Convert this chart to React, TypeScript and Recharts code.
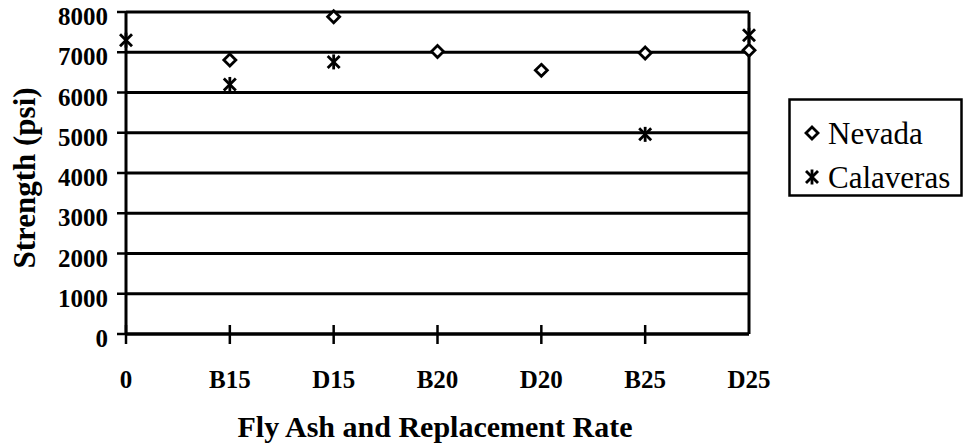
import React from 'react';
import { LineChart, Line, XAxis, YAxis, CartesianGrid, ReferenceLine } from 'recharts';

const categories = ['0', 'B15', 'D15', 'B20', 'D20', 'B25', 'D25'];
const nevada: (number | null)[] = [null, 6810, 7880, 7020, 6550, 6980, 7050];
const calaveras: (number | null)[] = [7300, 6200, 6760, null, null, 4960, 7420];
const yTicks = [0, 1000, 2000, 3000, 4000, 5000, 6000, 7000, 8000];
const seriesNames = ['Nevada', 'Calaveras'];

const data = categories.map((c, i) => ({ cat: c, nevada: nevada[i], calaveras: calaveras[i] }));

const FONT = 'Liberation Serif, Times New Roman, serif';

const Diamond = (props: any) => {
  const { cx, cy } = props;
  if (cx == null || cy == null) return <g key={props.key} />;
  const s = 6;
  return (
    <polygon
      key={props.key}
      points={`${cx},${cy - s} ${cx + s},${cy} ${cx},${cy + s} ${cx - s},${cy}`}
      fill="#fff"
      stroke="#000"
      strokeWidth={2.8}
    />
  );
};

const Star = (props: any) => {
  const { cx, cy } = props;
  if (cx == null || cy == null) return <g key={props.key} />;
  const s = 6;
  return (
    <g key={props.key} stroke="#000" strokeWidth={2.8}>
      <line x1={cx - s} y1={cy - s} x2={cx + s} y2={cy + s} />
      <line x1={cx - s} y1={cy + s} x2={cx + s} y2={cy - s} />
      <line x1={cx} y1={cy - 7.5} x2={cx} y2={cy + 7.5} />
    </g>
  );
};

const XTick = (props: any) => {
  const { x, y, payload, index } = props;
  return (
    <g>
      {index < categories.length - 1 && (
        <line x1={x} x2={x} y1={y - 9} y2={y + 10} stroke="#000" strokeWidth={2.5} />
      )}
      <text x={x} y={y + 54} textAnchor="middle" fontFamily={FONT} fontWeight="bold" fontSize={25} fill="#000">
        {payload.value}
      </text>
    </g>
  );
};

const YTick = (props: any) => {
  const { x, y, payload } = props;
  return (
    <text x={x} y={y + 13} textAnchor="end" fontFamily={FONT} fontWeight="bold" fontSize={25} fill="#000">
      {payload.value}
    </text>
  );
};

const LegendBox = () => (
  <svg width={176} height={100} style={{ position: 'absolute', left: 788, top: 98, display: 'block' }}>
    <rect x={1.5} y={1.5} width={172} height={96} fill="#fff" stroke="#000" strokeWidth={2.5} />
    {seriesNames.map((name, i) => {
      const M = i === 0 ? Diamond : Star;
      const cy = i === 0 ? 35 : 79;
      return (
        <g key={name}>
          <M cx={24} cy={cy} />
          <text x={40} y={cy + 11} fontFamily={FONT} fontSize={31} fill="#000">
            {name}
          </text>
        </g>
      );
    })}
  </svg>
);

export default function App() {
  return (
    <div style={{ position: 'absolute', left: 0, top: 0, width: 966, height: 445, background: '#fff' }}>
      <LineChart width={966} height={445} data={data} margin={{ top: 12, right: 217, bottom: 0, left: 0 }}>
        <CartesianGrid horizontal vertical={false} stroke="#000" strokeWidth={2.8} />
        <ReferenceLine x="D25" stroke="#000" strokeWidth={3} />
        <XAxis
          dataKey="cat"
          type="category"
          height={111}
          axisLine={{ stroke: '#000', strokeWidth: 3 }}
          tickLine={false}
          tickSize={0}
          tickMargin={0}
          interval={0}
          tick={<XTick />}
          label={{
            content: () => (
              <text x={435} y={437} textAnchor="middle" fontFamily={FONT} fontWeight="bold" fontSize={30} fill="#000">
                Fly Ash and Replacement Rate
              </text>
            ),
          }}
        />
        <YAxis
          type="number"
          domain={[0, 8000]}
          ticks={yTicks}
          width={126}
          axisLine={{ stroke: '#000', strokeWidth: 3 }}
          tickLine={{ stroke: '#000', strokeWidth: 2.5 }}
          tickSize={9}
          tickMargin={9}
          interval={0}
          tick={<YTick />}
          label={{
            content: () => (
              <text
                x={35}
                y={178}
                transform="rotate(-90, 35, 178)"
                textAnchor="middle"
                fontFamily={FONT}
                fontWeight="bold"
                fontSize={31}
                fill="#000"
              >
                Strength (psi)
              </text>
            ),
          }}
        />
        <Line dataKey="nevada" name={seriesNames[0]} stroke="none" isAnimationActive={false} dot={Diamond} activeDot={false} connectNulls={false} />
        <Line dataKey="calaveras" name={seriesNames[1]} stroke="none" isAnimationActive={false} dot={Star} activeDot={false} connectNulls={false} />
      </LineChart>
      <LegendBox />
    </div>
  );
}
